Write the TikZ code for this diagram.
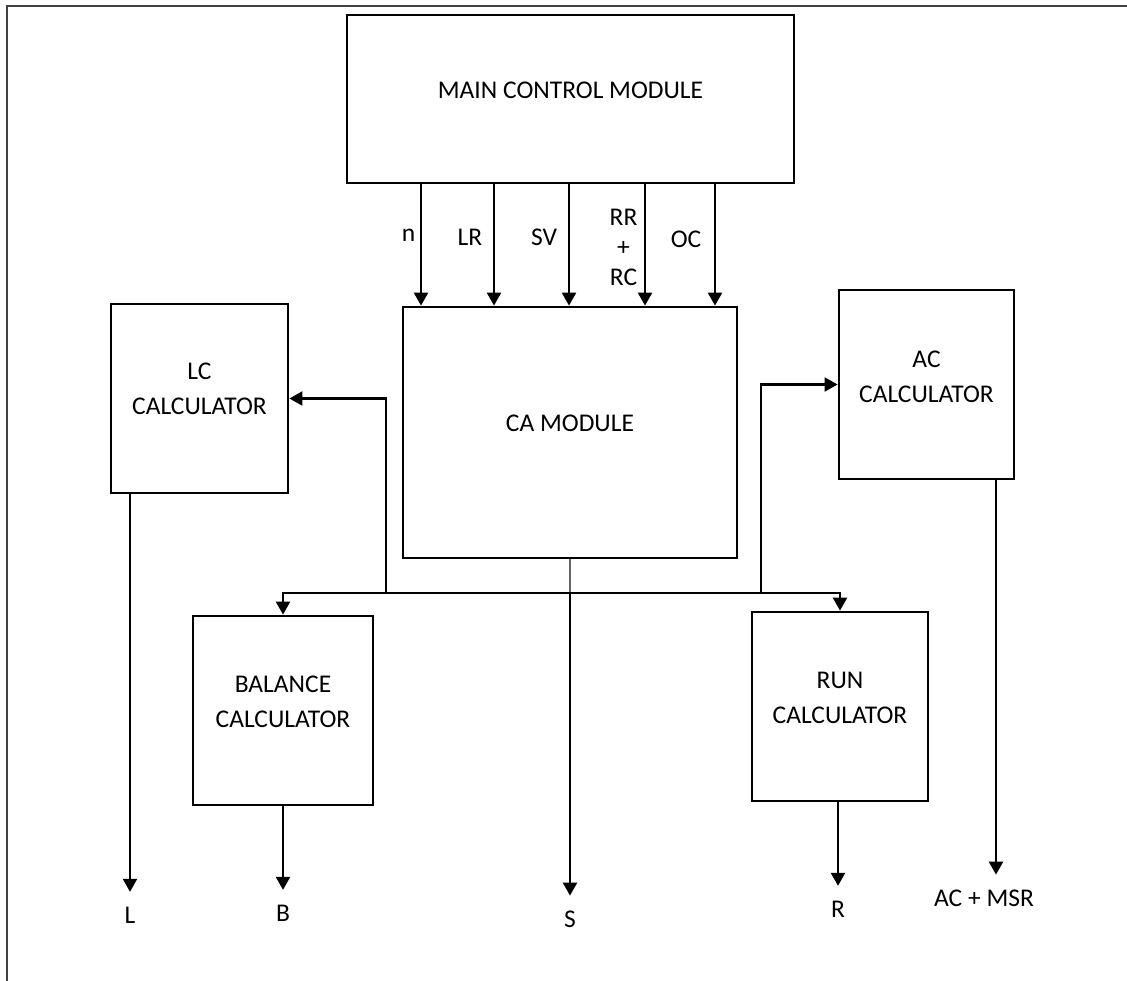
\documentclass[tikz,border=0pt]{standalone}
\usepackage{fontspec}
\setmainfont{Carlito}
\usetikzlibrary{arrows.meta}

\begin{document}
\begin{tikzpicture}[x=1pt, y=-1pt, >={Triangle[width=14pt,length=13pt]},
    box/.style={draw, line width=2.8pt, inner sep=0pt},
    lbl/.style={font=\fontsize{25.5}{35}\selectfont, align=center, inner sep=0pt},
    outlbl/.style={lbl, outer sep=15pt},
    sig/.style={line width=2.3pt}]
    \useasboundingbox (0,0) rectangle (1127,981);
    \draw[line width=1.4pt, black!75] (7,981) -- (7,6) -- (1127,6);

    % modules
    \node[box, minimum width=447pt, minimum height=168pt] (main) at (570.5,99) {};
    \node[lbl] (mainlbl) at ([yshift=9pt]main.center) {MAIN CONTROL MODULE};

    \node[box, minimum width=334pt, minimum height=251pt] (ca) at (570,432.5) {};
    \node[lbl] (calbl) at ([yshift=9pt]ca.center) {CA MODULE};

    \node[box, minimum width=177pt, minimum height=189pt] (lc) at (199.5,398.5) {};
    \node[lbl] (lclbl) at ([yshift=10pt]lc.center) {LC\\CALCULATOR};

    \node[box, minimum width=175pt, minimum height=189pt] (ac) at (926.5,384.5) {};
    \node[lbl] (aclbl) at ([yshift=8pt]ac.center) {AC\\CALCULATOR};

    \node[box, minimum width=180pt, minimum height=189pt] (bal) at (283,710.5) {};
    \node[lbl] (ballbl) at ([yshift=9pt]bal.center) {BALANCE\\CALCULATOR};

    \node[box, minimum width=176pt, minimum height=189pt] (run) at (840,706.5) {};
    \node[lbl] (runlbl) at ([yshift=9pt]run.center) {RUN\\CALCULATOR};

    % inputs from the main control module
    \draw[sig, ->] (421,0 |- main.south) -- (421,0 |- ca.north);
    \draw[sig, ->] (494,0 |- main.south) -- (494,0 |- ca.north);
    \draw[sig, ->] (569,0 |- main.south) -- (569,0 |- ca.north);
    \draw[sig, ->] (645,0 |- main.south) -- (645,0 |- ca.north);
    \draw[sig, ->] (715,0 |- main.south) -- (715,0 |- ca.north);

    \node[lbl] (n) at (408.5,235) {n};
    \node[lbl] (lr) at (470,237) {LR};
    \node[lbl] (sv) at (544,237) {SV};
    \node[lbl] (rrrc) at (623.5,247) {RR\\[-5pt]+\\[-5pt]RC};
    \node[lbl] (oc) at (686,239) {OC};

    % bus below the CA module
    \coordinate (hub) at (570,593);
    \coordinate (tapL) at (386,593);
    \coordinate (tapR) at (761,593);

    \draw[line width=1.2pt, black!60] (ca.south) -- (hub);
    \draw[sig, ->] (hub) -| (bal);
    \draw[sig, ->] (hub) -| (run);
    \draw[sig, ->] (tapL) |- (lc);
    \draw[sig, ->] (tapR) |- (ac);

    % outputs
    \node[outlbl] (L) at (130,915) {L};
    \node[outlbl] (B) at (283,913) {B};
    \node[outlbl] (S) at (570,919) {S};
    \node[outlbl] (R) at (838,909) {R};
    \node[outlbl] (acmsr) at (984,898) {AC + MSR};

    \draw[sig, ->] (lc.south -| L) -- (L);
    \draw[sig, ->] (bal) -- (B);
    \draw[sig, ->] (hub) -- (S);
    \draw[sig, ->] (run.south -| R) -- (R);
    \draw[sig, ->] (996,0 |- ac.south) -- (996,0 |- acmsr.north);
\end{tikzpicture}
\end{document}
